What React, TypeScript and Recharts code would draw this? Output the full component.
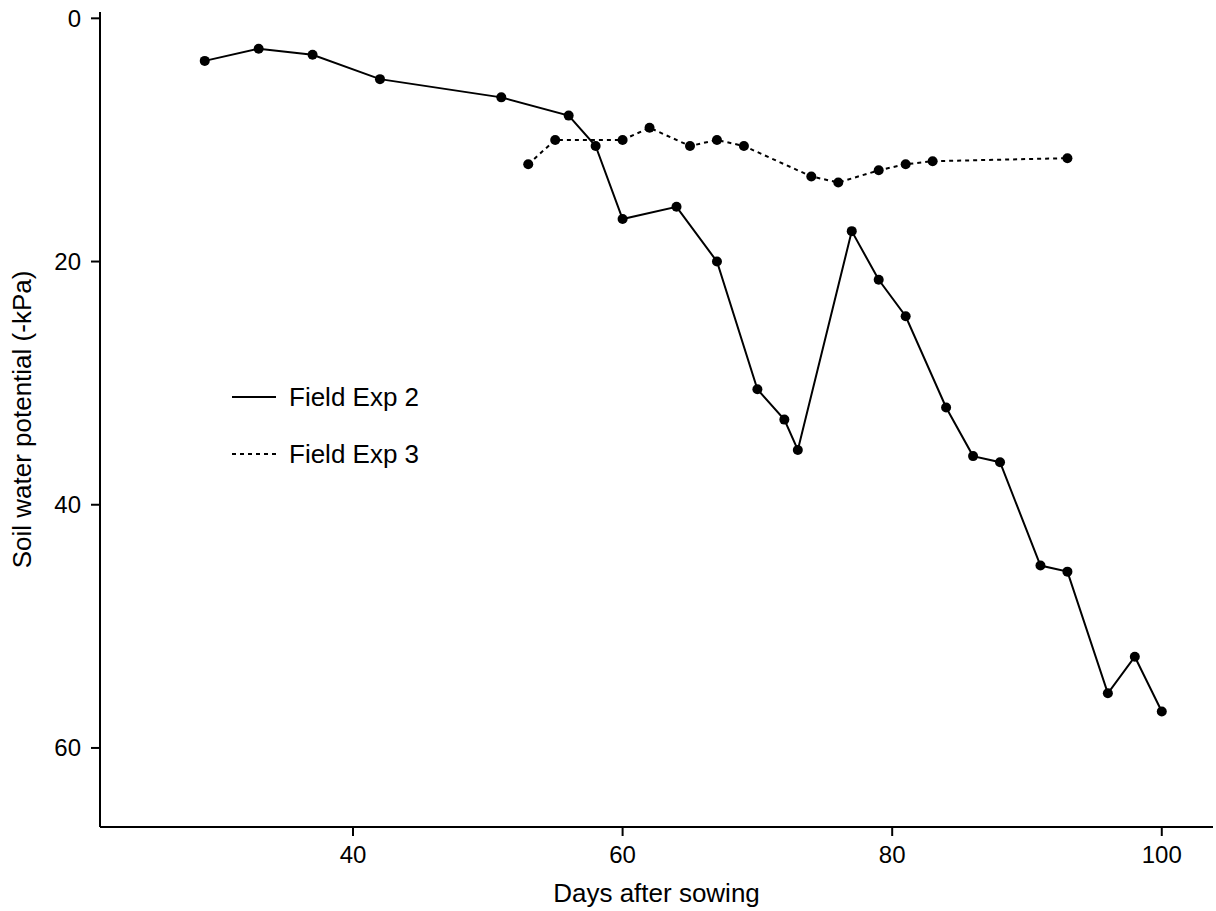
import React from 'react';
import { LineChart, Line, XAxis, YAxis, Legend } from 'recharts';

// Days after sowing and soil water potential (-kPa)
const exp2Days = [29, 33, 37, 42, 51, 56, 58, 60, 64, 67, 70, 72, 73, 77, 79, 81, 84, 86, 88, 91, 93, 96, 98, 100];
const exp2Psi = [3.5, 2.5, 3.0, 5.0, 6.5, 8.0, 10.5, 16.5, 15.5, 20.0, 30.5, 33.0, 35.5, 17.5, 21.5, 24.5, 32.0, 36.0, 36.5, 45.0, 45.5, 55.5, 52.5, 57.0];

const exp3Days = [53, 55, 60, 62, 65, 67, 69, 74, 76, 79, 81, 83, 93];
const exp3Psi = [12.0, 10.0, 10.0, 9.0, 10.5, 10.0, 10.5, 13.0, 13.5, 12.5, 12.0, 11.75, 11.5];

const xTicks = [40, 60, 80, 100];
const yTicks = [0, 20, 40, 60];

const seriesNames = ['Field Exp 2', 'Field Exp 3'];

const exp2Data = exp2Days.map((day, i) => ({ day, psi: exp2Psi[i] }));
const exp3Data = exp3Days.map((day, i) => ({ day, psi: exp3Psi[i] }));

const FONT = 'Arial, "Liberation Sans", sans-serif';
const DASH = '4 4';

const dotStyle = { r: 5, fill: '#000', stroke: '#000', strokeWidth: 0 };

const YTitle = ({ viewBox }: any) => {
    const cx = viewBox.x + 22;
    const cy = viewBox.y + viewBox.height / 2;
    return (
        <text
            x={cx}
            y={cy}
            transform={`rotate(-90 ${cx} ${cy})`}
            textAnchor="middle"
            dominantBaseline="central"
            fontSize={26}
            fontFamily={FONT}
            fill="#000"
        >
            Soil water potential (-kPa)
        </text>
    );
};

const XTitle = ({ viewBox }: any) => (
    <text
        x={viewBox.x + viewBox.width / 2}
        y={viewBox.y + 66}
        textAnchor="middle"
        dominantBaseline="central"
        fontSize={26}
        fontFamily={FONT}
        fill="#000"
    >
        Days after sowing
    </text>
);

const LegendBox = () => (
    <svg width={220} height={100} style={{ overflow: 'visible', display: 'block' }}>
        {seriesNames.map((name, i) => (
            <g key={name} transform={`translate(0, ${22 + i * 57})`}>
                <line
                    x1={0}
                    x2={44}
                    y1={0}
                    y2={0}
                    stroke="#000"
                    strokeWidth={2}
                    strokeDasharray={i === 1 ? DASH : undefined}
                />
                <text x={57} y={0} dominantBaseline="central" fontSize={26} fontFamily={FONT} fill="#000">
                    {name}
                </text>
            </g>
        ))}
    </svg>
);

export default function App() {
    return (
        <div style={{ position: 'absolute', left: 0, top: 0, width: 1216, height: 911, background: '#fff' }}>
            <LineChart width={1216} height={911} margin={{ top: 12, right: 3, bottom: 0, left: 0 }}>
                <XAxis
                    type="number"
                    dataKey="day"
                    domain={[21.23, 103.8]}
                    ticks={xTicks}
                    allowDataOverflow
                    height={84}
                    tickSize={9}
                    tickMargin={10}
                    axisLine={{ stroke: '#000', strokeWidth: 2 }}
                    tickLine={{ stroke: '#000', strokeWidth: 2 }}
                    tick={{ fill: '#000', fontSize: 24, fontFamily: FONT }}
                    label={{ content: XTitle }}
                />
                <YAxis
                    type="number"
                    dataKey="psi"
                    reversed
                    domain={[-0.52, 66.5]}
                    ticks={yTicks}
                    allowDataOverflow
                    width={100}
                    tickSize={9}
                    tickMargin={10}
                    axisLine={{ stroke: '#000', strokeWidth: 2 }}
                    tickLine={{ stroke: '#000', strokeWidth: 2 }}
                    tick={{ fill: '#000', fontSize: 24, fontFamily: FONT }}
                    label={{ content: YTitle }}
                />
                <Legend
                    content={LegendBox}
                    layout="horizontal"
                    verticalAlign="middle"
                    align="center"
                    wrapperStyle={{ left: 232, top: 375, width: 220, height: 100 }}
                />
                <Line
                    data={exp2Data}
                    dataKey="psi"
                    name={seriesNames[0]}
                    type="linear"
                    stroke="#000"
                    strokeWidth={2}
                    dot={dotStyle}
                    activeDot={false}
                    isAnimationActive={false}
                />
                <Line
                    data={exp3Data}
                    dataKey="psi"
                    name={seriesNames[1]}
                    type="linear"
                    stroke="#000"
                    strokeWidth={2}
                    strokeDasharray={DASH}
                    dot={dotStyle}
                    activeDot={false}
                    isAnimationActive={false}
                />
            </LineChart>
        </div>
    );
}
